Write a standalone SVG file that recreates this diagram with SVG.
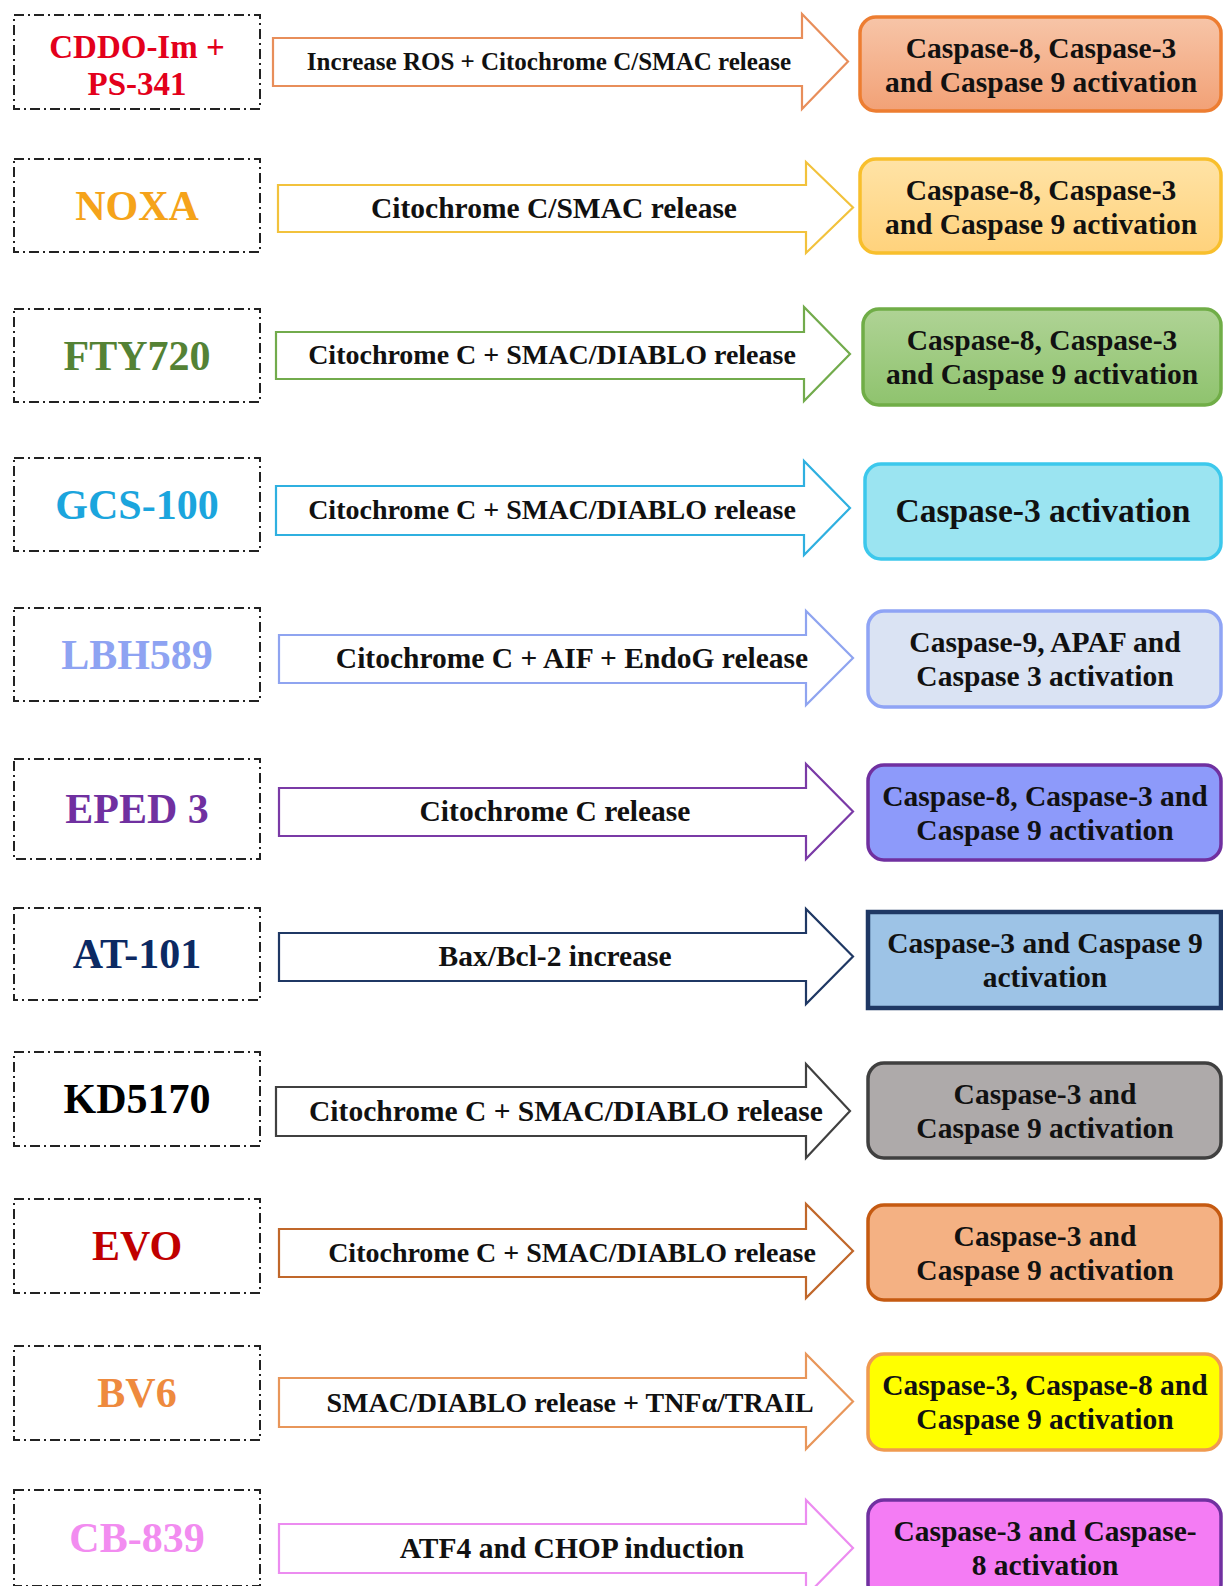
<svg xmlns="http://www.w3.org/2000/svg" width="1223" height="1586" viewBox="0 0 1223 1586">
<style>
text{font-family:"Liberation Serif","Times New Roman",serif;font-weight:bold;text-anchor:middle}
.drug{fill:none;stroke:#222;stroke-width:2;stroke-dasharray:10 4 2 4}
.dl{font-size:42px}
.at{font-size:29.5px;fill:#111}
.rt{font-size:29.5px;fill:#111}
.arr{fill:#fff;stroke-width:2.2;stroke-linejoin:miter}
.res{stroke-width:3.5}
</style>
<defs>
<linearGradient id="g1" x1="0" y1="0" x2="0" y2="1"><stop offset="0" stop-color="#f7c5a8"/><stop offset="1" stop-color="#f2a176"/></linearGradient>
<linearGradient id="g2" x1="0" y1="0" x2="0" y2="1"><stop offset="0" stop-color="#ffe3a6"/><stop offset="1" stop-color="#ffd27c"/></linearGradient>
<linearGradient id="g3" x1="0" y1="0" x2="0" y2="1"><stop offset="0" stop-color="#afd395"/><stop offset="1" stop-color="#8fc36e"/></linearGradient>
</defs>

<g id="drug-cddo">
<rect class="drug" x="14" y="15" width="246" height="94"/>
<text class="dl" x="137" y="58" style="font-size:33px" fill="#e3001b">CDDO-Im +</text>
<text class="dl" x="137" y="95" style="font-size:33px" fill="#e3001b">PS-341</text>
</g>
<g id="drug-noxa">
<rect class="drug" x="14" y="159" width="246" height="93"/>
<text class="dl" x="137" y="220" fill="#f5a31a">NOXA</text>
</g>
<g id="drug-fty720">
<rect class="drug" x="14" y="309" width="246" height="93"/>
<text class="dl" x="137" y="370" fill="#548235">FTY720</text>
</g>
<g id="drug-gcs100">
<rect class="drug" x="14" y="458" width="246" height="93"/>
<text class="dl" x="137" y="519" fill="#1ba5dd">GCS-100</text>
</g>
<g id="drug-lbh589">
<rect class="drug" x="14" y="608" width="246" height="93"/>
<text class="dl" x="137" y="669" fill="#8ea3f2">LBH589</text>
</g>
<g id="drug-eped3">
<rect class="drug" x="14" y="759" width="246" height="100"/>
<text class="dl" x="137" y="823" fill="#7030a0">EPED 3</text>
</g>
<g id="drug-at101">
<rect class="drug" x="14" y="908" width="246" height="92"/>
<text class="dl" x="137" y="968" fill="#0c2a63">AT-101</text>
</g>
<g id="drug-kd5170">
<rect class="drug" x="14" y="1052" width="246" height="94"/>
<text class="dl" x="137" y="1113" fill="#000">KD5170</text>
</g>
<g id="drug-evo">
<rect class="drug" x="14" y="1199" width="246" height="94"/>
<text class="dl" x="137" y="1260" fill="#c00000">EVO</text>
</g>
<g id="drug-bv6">
<rect class="drug" x="14" y="1346" width="246" height="94"/>
<text class="dl" x="137" y="1407" fill="#ee8a3e">BV6</text>
</g>
<g id="drug-cb839">
<rect class="drug" x="14" y="1490" width="246" height="96"/>
<text class="dl" x="137" y="1552" fill="#f28cf0">CB-839</text>
</g>

<g id="connectors">
<polygon class="arr" stroke="#e88e5a" points="273,38 802,38 802,14 848,61.5 802,109 802,86 273,86"/>
<text class="at" x="549" y="70" style="font-size:25px">Increase ROS + Citochrome C/SMAC release</text>

<polygon class="arr" stroke="#f2c23c" points="278,185 806,185 806,162 853,207.5 806,253 806,232 278,232"/>
<text class="at" x="554" y="218">Citochrome C/SMAC release</text>

<polygon class="arr" stroke="#72ab4c" points="276,332 804,332 804,307 850,354 804,401 804,379 276,379"/>
<text class="at" x="552" y="364" style="font-size:28px">Citochrome C + SMAC/DIABLO release</text>

<polygon class="arr" stroke="#2fb0e0" points="276,486 804,486 804,461 850,508 804,555 804,535 276,535"/>
<text class="at" x="552" y="519" style="font-size:28px">Citochrome C + SMAC/DIABLO release</text>

<polygon class="arr" stroke="#8fa4f0" points="279,635 806,635 806,611 853,658 806,705 806,683 279,683"/>
<text class="at" x="572" y="668">Citochrome C + AIF + EndoG release</text>

<polygon class="arr" stroke="#7a3aa6" points="279,788 806,788 806,764 853,811.5 806,859 806,836 279,836"/>
<text class="at" x="555" y="821">Citochrome C release</text>

<polygon class="arr" stroke="#1f3864" points="279,933 806,933 806,909 853,956.5 806,1004 806,981 279,981"/>
<text class="at" x="555" y="966">Bax/Bcl-2 increase</text>

<polygon class="arr" stroke="#404040" points="276,1087 806,1087 806,1064 850,1111 806,1158 806,1136 276,1136"/>
<text class="at" x="566" y="1121">Citochrome C + SMAC/DIABLO release</text>

<polygon class="arr" stroke="#c0672a" points="279,1229 806,1229 806,1204 853,1251 806,1298 806,1277 279,1277"/>
<text class="at" x="572" y="1262" style="font-size:28px">Citochrome C + SMAC/DIABLO release</text>

<polygon class="arr" stroke="#e8965a" points="279,1378 806,1378 806,1354 853,1401.5 806,1449 806,1427 279,1427"/>
<text class="at" x="570" y="1412" style="font-size:28px">SMAC/DIABLO release + TNFα/TRAIL</text>

<polygon class="arr" stroke="#ec8cf0" points="279,1524 806,1524 806,1500 853,1548 806,1596 806,1573 279,1573"/>
<text class="at" x="572" y="1558">ATF4 and CHOP induction</text>
</g>

<g id="res-1">
<rect class="res" x="860" y="17" width="361" height="94" rx="16" fill="url(#g1)" stroke="#ed7d31"/>
<text class="rt" x="1041" y="58">Caspase-8, Caspase-3</text>
<text class="rt" x="1041" y="92">and Caspase 9 activation</text>
</g>
<g id="res-2">
<rect class="res" x="860" y="159" width="361" height="94" rx="16" fill="url(#g2)" stroke="#f8bf2c"/>
<text class="rt" x="1041" y="200">Caspase-8, Caspase-3</text>
<text class="rt" x="1041" y="234">and Caspase 9 activation</text>
</g>
<g id="res-3">
<rect class="res" x="863" y="309" width="358" height="96" rx="16" fill="url(#g3)" stroke="#70ad47"/>
<text class="rt" x="1042" y="350">Caspase-8, Caspase-3</text>
<text class="rt" x="1042" y="384">and Caspase 9 activation</text>
</g>
<g id="res-4">
<rect class="res" x="865" y="464" width="356" height="95" rx="16" fill="#9be4f1" stroke="#3cc8ec"/>
<text class="rt" x="1043" y="522" style="font-size:33.5px">Caspase-3 activation</text>
</g>
<g id="res-5">
<rect class="res" x="868" y="611" width="353" height="96" rx="16" fill="#dae3f3" stroke="#8fa4f5"/>
<text class="rt" x="1045" y="652">Caspase-9, APAF and</text>
<text class="rt" x="1045" y="686">Caspase 3 activation</text>
</g>
<g id="res-6">
<rect class="res" x="868" y="765" width="353" height="95" rx="16" fill="#8d9afa" stroke="#7030a0"/>
<text class="rt" x="1045" y="806">Caspase-8, Caspase-3 and</text>
<text class="rt" x="1045" y="840">Caspase 9 activation</text>
</g>
<g id="res-7">
<rect class="res" x="868" y="912" width="353" height="96" fill="#9dc3e6" stroke="#1f3864" style="stroke-width:4.5"/>
<text class="rt" x="1045" y="953">Caspase-3 and Caspase 9</text>
<text class="rt" x="1045" y="987">activation</text>
</g>
<g id="res-8">
<rect class="res" x="868" y="1063" width="353" height="95" rx="16" fill="#aeaaaa" stroke="#404040"/>
<text class="rt" x="1045" y="1104">Caspase-3 and</text>
<text class="rt" x="1045" y="1138">Caspase 9 activation</text>
</g>
<g id="res-9">
<rect class="res" x="868" y="1205" width="353" height="95" rx="16" fill="#f4b183" stroke="#c55a11"/>
<text class="rt" x="1045" y="1246">Caspase-3 and</text>
<text class="rt" x="1045" y="1280">Caspase 9 activation</text>
</g>
<g id="res-10">
<rect class="res" x="868" y="1354" width="353" height="96" rx="16" fill="#ffff00" stroke="#f09a50"/>
<text class="rt" x="1045" y="1395">Caspase-3, Caspase-8 and</text>
<text class="rt" x="1045" y="1429">Caspase 9 activation</text>
</g>
<g id="res-11">
<rect class="res" x="868" y="1500" width="353" height="100" rx="16" fill="#f47cf4" stroke="#7030a0"/>
<text class="rt" x="1045" y="1541">Caspase-3 and Caspase-</text>
<text class="rt" x="1045" y="1575">8 activation</text>
</g>
</svg>
